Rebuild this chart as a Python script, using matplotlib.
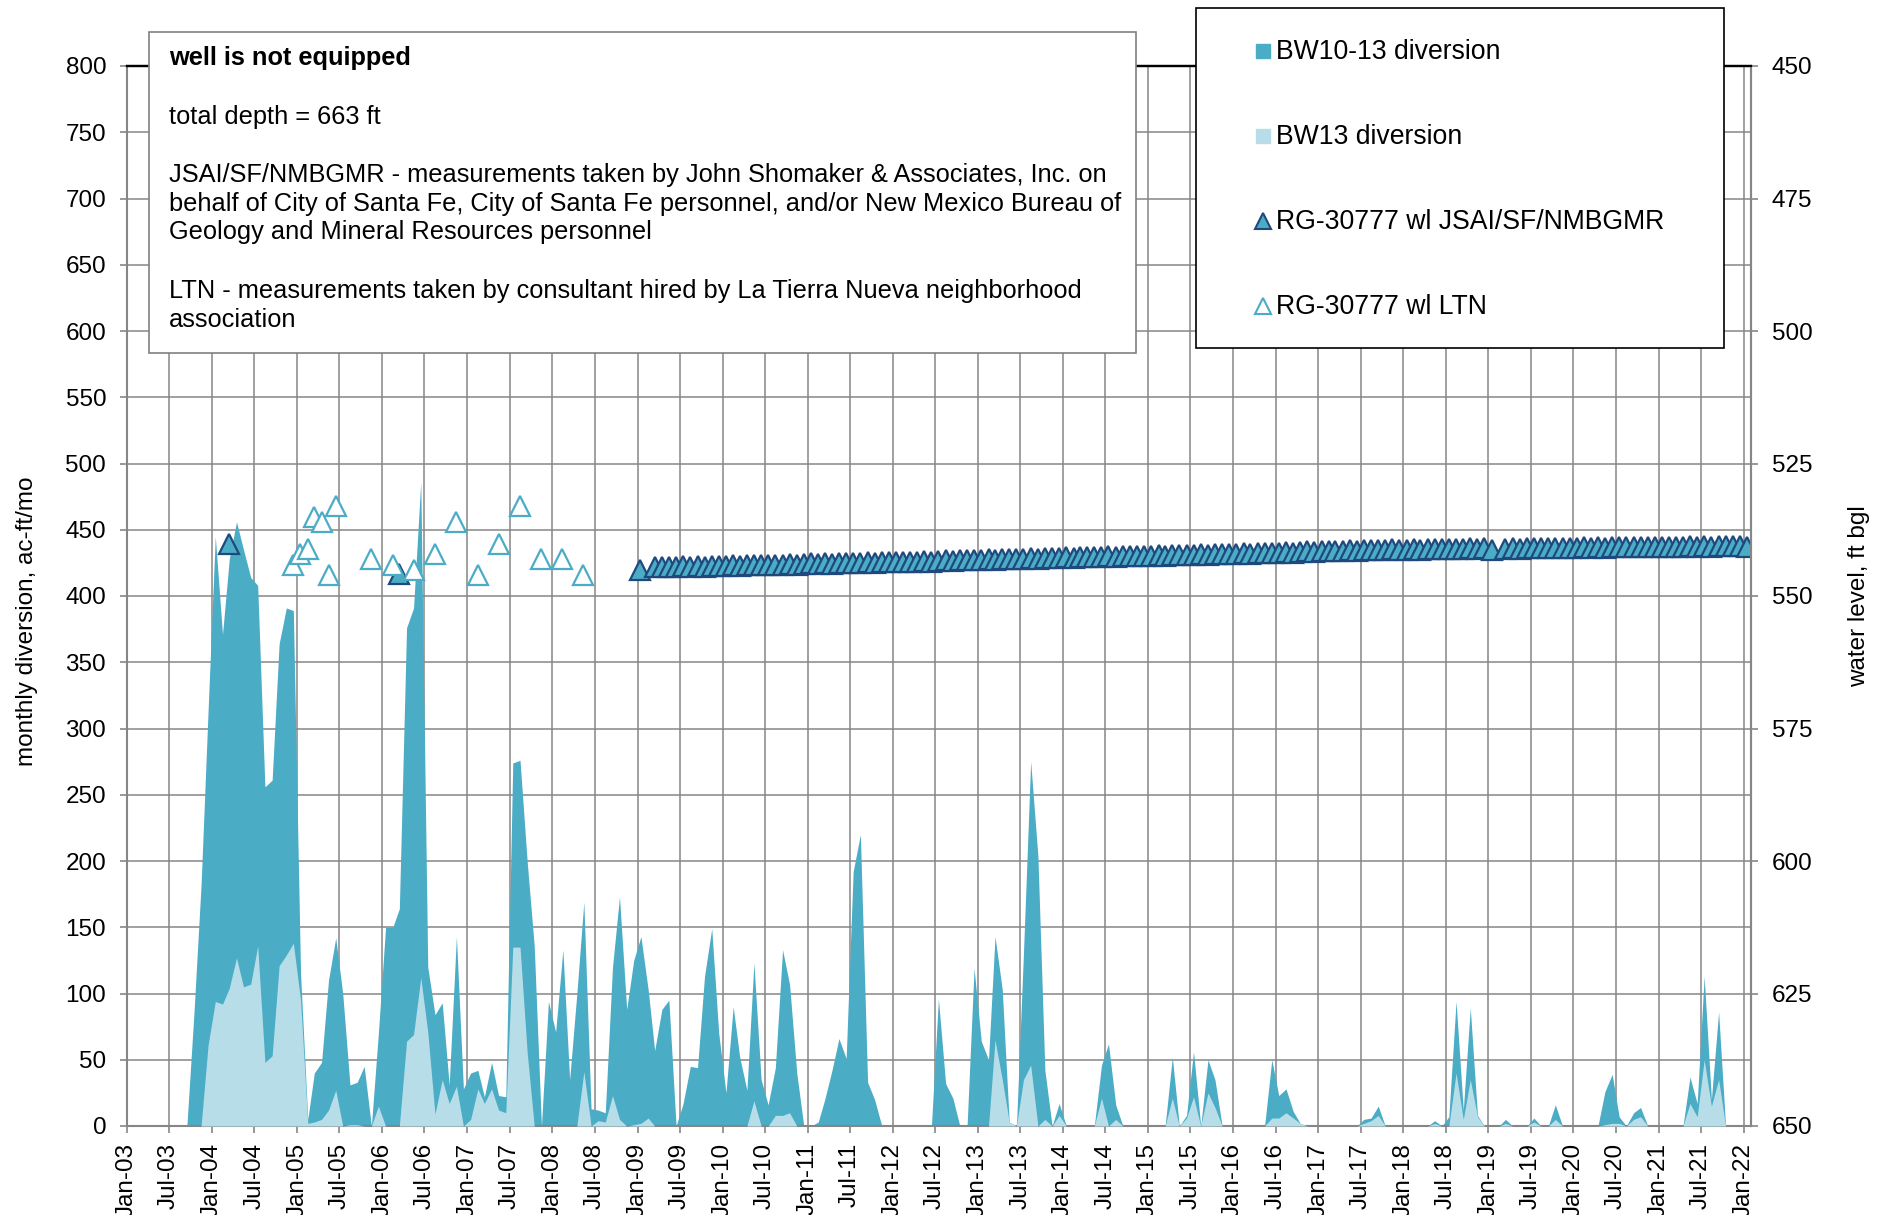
import numpy as np
import pandas as pd
import matplotlib
import matplotlib.pyplot as plt
import matplotlib.dates as mdates
from matplotlib.patches import Rectangle

matplotlib.use('Agg')
plt.rcParams['font.family'] = ['Liberation Sans', 'DejaVu Sans']

# monthly diversion, ac-ft/mo, one value per month Jan-03 .. Jan-22
bw10_13_div = [
    0, 0, 0, 0, 0, 0, 0, 0, 0, 84, 182, 313,              # 2003
    445, 371, 428, 456, 435, 414, 408, 256, 261, 364, 391, 389,  # 2004
    115, 5, 40, 48, 110, 142, 100, 31, 33, 45, 0, 70,     # 2005
    150, 150, 164, 376, 391, 486, 120, 84, 93, 31, 143, 28,  # 2006
    40, 42, 22, 48, 23, 22, 274, 276, 199, 136, 0, 94,    # 2007
    71, 133, 35, 100, 169, 13, 12, 10, 120, 173, 88, 125,  # 2008
    143, 103, 57, 88, 95, 0, 17, 45, 44, 113, 149, 70,    # 2009
    25, 90, 52, 27, 123, 35, 16, 44, 133, 107, 40, 0,     # 2010
    0, 3, 20, 42, 66, 51, 192, 220, 33, 20, 0, 0,         # 2011
    0, 0, 0, 0, 0, 0, 96, 32, 21, 0, 0, 119,              # 2012
    64, 50, 143, 103, 3, 0, 130, 275, 204, 42, 0, 17,     # 2013
    0, 0, 0, 0, 0, 46, 62, 16, 0, 0, 0, 0,                # 2014
    0, 0, 0, 52, 0, 8, 56, 0, 50, 35, 0, 0,               # 2015
    0, 0, 0, 0, 0, 50, 23, 28, 11, 2, 0, 0,               # 2016
    0, 0, 0, 0, 0, 0, 5, 6, 15, 0, 0, 0,                  # 2017
    0, 0, 0, 0, 4, 0, 7, 94, 12, 89, 8, 0,                # 2018
    0, 0, 5, 0, 0, 0, 6, 0, 0, 16, 0, 0,                  # 2019
    0, 0, 0, 0, 26, 39, 7, 0, 10, 14, 0, 1,               # 2020
    0, 0, 0, 0, 37, 17, 113, 20, 86, 0, 0, 0,             # 2021
    0,                                                    # 2022
]

bw13_div = [
    0, 0, 0, 0, 0, 0, 0, 0, 0, 0, 0, 61,
    94, 92, 104, 127, 105, 107, 136, 48, 53, 121, 129, 138,
    95, 2, 3, 5, 12, 27, 0, 1, 1, 0, 0, 15,
    0, 0, 0, 64, 69, 112, 71, 9, 35, 17, 30, 0,
    5, 28, 17, 28, 12, 10, 135, 135, 55, 0, 0, 0,
    0, 0, 0, 0, 41, 0, 4, 3, 23, 5, 0, 1,
    2, 6, 0, 0, 0, 0, 0, 0, 0, 0, 0, 0,
    0, 0, 0, 0, 19, 0, 0, 8, 8, 10, 0, 0,
    0, 0, 0, 0, 0, 0, 0, 0, 0, 0, 0, 0,
    0, 0, 0, 0, 0, 0, 0, 0, 0, 0, 0, 0,
    0, 0, 65, 35, 3, 0, 35, 46, 0, 5, 0, 8,
    0, 0, 0, 0, 0, 21, 0, 5, 0, 0, 0, 0,
    0, 0, 0, 21, 0, 6, 22, 0, 25, 14, 0, 0,
    0, 0, 0, 0, 0, 6, 6, 10, 6, 2, 0, 0,
    0, 0, 0, 0, 0, 0, 2, 4, 8, 0, 0, 0,
    0, 0, 0, 0, 2, 0, 0, 40, 5, 35, 7, 0,
    0, 0, 2, 0, 0, 0, 3, 0, 0, 5, 0, 0,
    0, 0, 0, 0, 1, 2, 2, 0, 5, 7, 0, 0,
    0, 0, 0, 0, 17, 7, 50, 15, 35, 0, 0, 0,
    0,
]

# water level, ft bgl - JSAI/SF/NMBGMR, early single readings
jsai_early_dates = ['2004-03-15', '2006-03-15', '2009-01-12']
jsai_early_wl = [540.1, 545.8, 545.0]

# monthly readings Mar-09 .. Jan-22 (Feb-19 missing)
jsai_wl = [
    544.6, 544.5, 544.6, 544.5, 544.4, 544.5, 544.4, 544.5, 544.4, 544.3,
    544.3, 544.2, 544.3, 544.2, 544.1, 544.2, 544.1, 544.2, 544.1, 544.0, 544.1, 544.0,
    543.8, 543.9, 543.8, 543.9, 543.8, 543.7, 543.8, 543.7, 543.6, 543.7, 543.6, 543.6,
    543.6, 543.5, 543.6, 543.5, 543.4, 543.5, 543.4, 543.3, 543.4, 543.3, 543.2, 543.3,
    543.2, 543.1, 543.2, 543.1, 543.0, 543.1, 543.0, 542.9, 543.0, 542.9, 542.8, 542.9,
    542.7, 542.8, 542.7, 542.6, 542.7, 542.6, 542.5, 542.6, 542.5, 542.4, 542.5, 542.4,
    542.4, 542.3, 542.4, 542.3, 542.2, 542.3, 542.2, 542.1, 542.2, 542.1, 542.0, 542.1,
    542.0, 541.9, 542.0, 541.9, 541.8, 541.9, 541.8, 541.7, 541.8, 541.7, 541.6, 541.7,
    541.6, 541.5, 541.6, 541.5, 541.4, 541.5, 541.4, 541.3, 541.4, 541.3, 541.2, 541.3,
    541.3, 541.2, 541.3, 541.2, 541.1, 541.2, 541.1, 541.2, 541.1, 541.0, 541.1, 541.0,
    541.4, np.nan, 541.1, 541.0, 541.1, 541.0, 540.9, 541.0, 540.9, 541.0, 540.9, 540.9,
    540.9, 540.8, 540.9, 540.8, 540.9, 540.8, 540.7, 540.8, 540.7, 540.8, 540.7, 540.7,
    540.8, 540.7, 540.8, 540.7, 540.6, 540.7, 540.6, 540.7, 540.6, 540.5, 540.6, 540.6,
    540.7,
]

# water level, ft bgl - LTN
ltn_dates = ['2004-12-15', '2005-01-12', '2005-02-15', '2005-03-15', '2005-04-15',
             '2005-05-15', '2005-06-15', '2005-11-15', '2006-02-15', '2006-05-15',
             '2006-08-15', '2006-11-15', '2007-02-15', '2007-05-15', '2007-08-15',
             '2007-11-15', '2008-02-12', '2008-05-12']
ltn_wl = [544.1, 542.1, 541.1, 535.0, 536.1, 546.0, 533.0, 543.0, 544.1, 545.0,
          542.1, 536.0, 546.1, 540.1, 533.0, 543.0, 543.0, 546.1]

months = pd.date_range('2003-01-01', '2022-01-01', freq='MS') + pd.Timedelta(days=14)
jsai_dates = pd.to_datetime(jsai_early_dates).append(
    pd.date_range('2009-03-01', '2022-01-01', freq='MS') + pd.Timedelta(days=14))
jsai_all = jsai_early_wl + jsai_wl
ltn_dates = pd.to_datetime(ltn_dates)

dark = '#4BACC6'
light = '#B7DEE8'
navy = '#1F497D'
grid_c = '#868686'
fs = 17.5

W, H = 1885, 1215
fig = plt.figure(figsize=(W / 100, H / 100), dpi=100)
L, R, T, B = 127, 1751, 66, 1126
ax = fig.add_axes([L / W, 1 - B / H, (R - L) / W, (B - T) / H])

ax.fill_between(months, bw10_13_div, color=dark, lw=0, zorder=2)
ax.fill_between(months, bw13_div, color=light, lw=0, zorder=3)

ax.set_xlim(pd.Timestamp('2003-01-01'), pd.Timestamp('2022-02-01'))
ax.set_ylim(0, 800)
ax.set_yticks(range(0, 801, 50))
ax.xaxis.set_major_locator(mdates.MonthLocator(bymonth=[1, 7]))
ax.xaxis.set_major_formatter(mdates.DateFormatter('%b-%y'))
ax.grid(True, color=grid_c, lw=1.1)
ax.set_axisbelow(True)
ax.tick_params(axis='both', direction='out', length=5, width=1.2, color=grid_c,
               labelsize=fs, pad=10)
ax.tick_params(axis='x', labelrotation=90, pad=7)
for s in ['left', 'bottom', 'right']:
    ax.spines[s].set_color(grid_c)
    ax.spines[s].set_linewidth(1.5)
ax.spines['top'].set_color('black')
ax.spines['top'].set_linewidth(1.6)
ax.set_ylabel('monthly diversion, ac-ft/mo', fontsize=fs)
ax.yaxis.set_label_coords((38 - L) / (R - L), 0.476)

ax2 = ax.twinx()
ax2.plot(jsai_dates, jsai_all, ls='none', marker='^', ms=15, mfc=dark, mec=navy,
         mew=1.6, label='RG-30777 wl JSAI/SF/NMBGMR')
ax2.plot(ltn_dates, ltn_wl, ls='none', marker='^', ms=15, mfc='white', mec=dark,
         mew=1.6, label='RG-30777 wl LTN')
ax2.set_ylim(650, 450)
ax2.set_yticks(range(450, 651, 25))
ax2.tick_params(axis='y', direction='out', length=5, width=1.2, color=grid_c,
                labelsize=fs, pad=10)
ax2.spines['left'].set_visible(False)
ax2.spines['bottom'].set_visible(False)
ax2.spines['right'].set_color(grid_c)
ax2.spines['right'].set_linewidth(1.5)
ax2.spines['top'].set_color('black')
ax2.spines['top'].set_linewidth(1.6)
ax2.set_ylabel('water level, ft bgl', fontsize=fs)
ax2.yaxis.set_label_coords((1848 - L) / (R - L), 0.5)

# note box and legend box, laid out in figure pixels
ov = fig.add_axes([0, 0, 1, 1], zorder=10)
ov.set_xlim(0, W)
ov.set_ylim(H, 0)
ov.axis('off')
ov.patch.set_alpha(0)

ov.add_patch(Rectangle((149, 32), 987, 321, fc='white', ec='#808080', lw=1.2))
notes = [
    (65, 'well is not equipped', 'bold'),
    (124, 'total depth = 663 ft', 'normal'),
    (182, 'JSAI/SF/NMBGMR - measurements taken by John Shomaker & Associates, Inc. on', 'normal'),
    (211, 'behalf of City of Santa Fe, City of Santa Fe personnel, and/or New Mexico Bureau of', 'normal'),
    (239, 'Geology and Mineral Resources personnel', 'normal'),
    (298, 'LTN - measurements taken by consultant hired by La Tierra Nueva neighborhood', 'normal'),
    (327, 'association', 'normal'),
]
for y, txt, wt in notes:
    ov.text(169, y, txt, fontsize=18.3, fontweight=wt, va='baseline', ha='left')

ov.add_patch(Rectangle((1196, 8), 528, 340, fc='white', ec='black', lw=1.2))
ov.plot(1263, 51, marker='s', ms=9.5, color=dark, ls='none')
ov.plot(1263, 136, marker='s', ms=9.5, color=light, ls='none')
ov.plot(1263, 221, marker='^', ms=11, mfc=dark, mec=navy, mew=1.5, ls='none')
ov.plot(1263, 306, marker='^', ms=11, mfc='white', mec=dark, mew=1.5, ls='none')
legend_labels = ['BW10-13 diversion', 'BW13 diversion',
                 'RG-30777 wl JSAI/SF/NMBGMR', 'RG-30777 wl LTN']
for y, txt in zip([59, 144, 229, 314], legend_labels):
    ov.text(1276, y, txt, fontsize=19.2, va='baseline', ha='left')

fig.savefig('out.png', dpi=100)
